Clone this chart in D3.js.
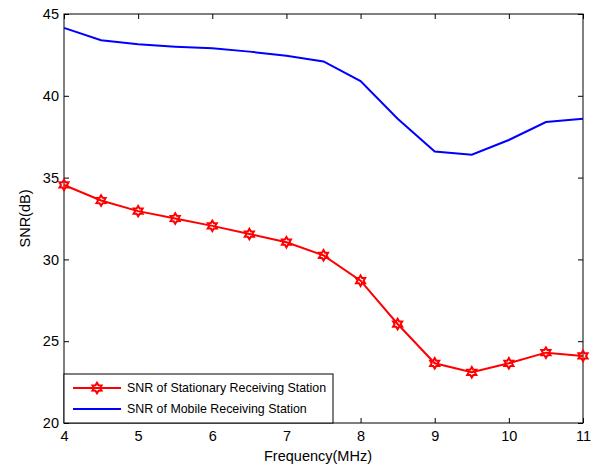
<!DOCTYPE html>
<meta charset="utf-8">
<style>
body { margin: 0; background: #fff; }
svg text { font-family: "Liberation Sans", Arial, sans-serif; fill: #000; }
.axis path, .axis line { stroke: #000; }
.line1 { fill: none; stroke: #ff0000; stroke-width: 2px; }
.line2 { fill: none; stroke: #0000ff; stroke-width: 2px; }
</style>
<svg width="602" height="465"></svg>
<script src="https://d3js.org/d3.v7.min.js"></script>
<script>

var freq = [4, 4.5, 5, 5.5, 6, 6.5, 7, 7.5, 8, 8.5, 9, 9.5, 10, 10.5, 11];
var snrStationary = [34.55, 33.6, 32.95, 32.5, 32.05, 31.55, 31.05, 30.25, 28.7, 26.05, 23.65, 23.1, 23.65, 24.3, 24.1];
var snrMobile = [44.15, 43.4, 43.15, 43.0, 42.9, 42.7, 42.45, 42.1, 40.9, 38.6, 36.6, 36.4, 37.3, 38.4, 38.6];
var xTicks = [4, 5, 6, 7, 8, 9, 10, 11];
var yTicks = [20, 25, 30, 35, 40, 45];
var seriesNames = ["SNR of Stationary Receiving Station", "SNR of Mobile Receiving Station"];

var svg = d3.select("svg"),
    margin = {top: 14, right: 19, bottom: 42, left: 64},
    width = +svg.attr("width") - margin.left - margin.right,
    height = +svg.attr("height") - margin.top - margin.bottom;

var x = d3.scaleLinear().domain([4, 11]).range([0, width]),
    y = d3.scaleLinear().domain([20, 45]).range([height, 0]);

var g = svg.append("g")
    .attr("transform", "translate(" + margin.left + "," + margin.top + ")");

// box
g.append("rect")
    .attr("width", width).attr("height", height)
    .attr("fill", "none").attr("stroke", "#000").attr("stroke-width", 1);

// bottom / left axes with inward ticks
g.append("g")
    .attr("class", "axis")
    .attr("transform", "translate(0," + height + ")")
    .call(d3.axisBottom(x).tickValues(xTicks).tickSizeInner(-5).tickSizeOuter(0).tickPadding(8).tickFormat(d3.format("d")))
    .call(function(s) { s.select(".domain").remove(); s.selectAll("text").attr("font-size", 14.5); });

g.append("g")
    .attr("class", "axis")
    .call(d3.axisLeft(y).tickValues(yTicks).tickSizeInner(-5).tickSizeOuter(0).tickPadding(5).tickFormat(d3.format("d")))
    .call(function(s) { s.select(".domain").remove(); s.selectAll("text").attr("font-size", 14.5); });

// top / right ticks
g.append("g")
    .attr("class", "axis")
    .call(d3.axisTop(x).tickValues(xTicks).tickSizeInner(-5).tickSizeOuter(0).tickFormat(""))
    .call(function(s) { s.select(".domain").remove(); });

g.append("g")
    .attr("class", "axis")
    .attr("transform", "translate(" + width + ",0)")
    .call(d3.axisRight(y).tickValues(yTicks).tickSizeInner(-5).tickSizeOuter(0).tickFormat(""))
    .call(function(s) { s.select(".domain").remove(); });

// axis labels
svg.append("text")
    .attr("x", 318)
    .attr("y", 461)
    .attr("text-anchor", "middle")
    .attr("font-size", 14.5)
    .text("Frequency(MHz)");

svg.append("text")
    .attr("transform", "translate(30," + (margin.top + height / 2) + ") rotate(-90)")
    .attr("text-anchor", "middle")
    .attr("font-size", 14.5)
    .text("SNR(dB)");

var line = d3.line()
    .x(function(d) { return x(d[0]); })
    .y(function(d) { return y(d[1]); });

var mobile = freq.map(function(f, i) { return [f, snrMobile[i]]; });
var stationary = freq.map(function(f, i) { return [f, snrStationary[i]]; });

g.append("path").datum(mobile).attr("class", "line2").attr("d", line);
g.append("path").datum(stationary).attr("class", "line1").attr("d", line);

// hexagram marker
var hexagram = {
  draw: function(ctx, size) {
    var r = Math.sqrt(size) / 2, ri = r * 0.58;
    for (var k = 0; k < 12; k++) {
      var a = -Math.PI / 2 + k * Math.PI / 6,
          rr = k % 2 ? ri : r;
      if (k === 0) ctx.moveTo(rr * Math.cos(a), rr * Math.sin(a));
      else ctx.lineTo(rr * Math.cos(a), rr * Math.sin(a));
    }
    ctx.closePath();
  }
};
var star = d3.symbol().type(hexagram).size(110);

g.selectAll(".mark")
    .data(stationary)
  .enter().append("path")
    .attr("class", "mark")
    .attr("transform", function(d) { return "translate(" + x(d[0]) + "," + y(d[1]) + ")"; })
    .attr("d", star)
    .attr("fill", "none")
    .attr("stroke", "#ff0000")
    .attr("stroke-width", 2);

// legend
var lg = g.append("g");
lg.append("rect")
    .attr("x", 0).attr("y", height - 49)
    .attr("width", 269).attr("height", 49)
    .attr("fill", "#fff").attr("stroke", "#000");

var rows = [
  {name: seriesNames[0], cls: "line1", marker: true, yy: height - 35},
  {name: seriesNames[1], cls: "line2", marker: false, yy: height - 14}
];
rows.forEach(function(r) {
  lg.append("line").attr("class", r.cls)
    .attr("x1", 9).attr("x2", 57).attr("y1", r.yy).attr("y2", r.yy);
  if (r.marker) {
    lg.append("path")
      .attr("transform", "translate(33," + r.yy + ")")
      .attr("d", star)
      .attr("fill", "none").attr("stroke", "#ff0000").attr("stroke-width", 2);
  }
  lg.append("text")
    .attr("x", 63).attr("y", r.yy)
    .attr("dy", "0.35em")
    .attr("font-size", 12.4)
    .text(r.name);
});

</script>
